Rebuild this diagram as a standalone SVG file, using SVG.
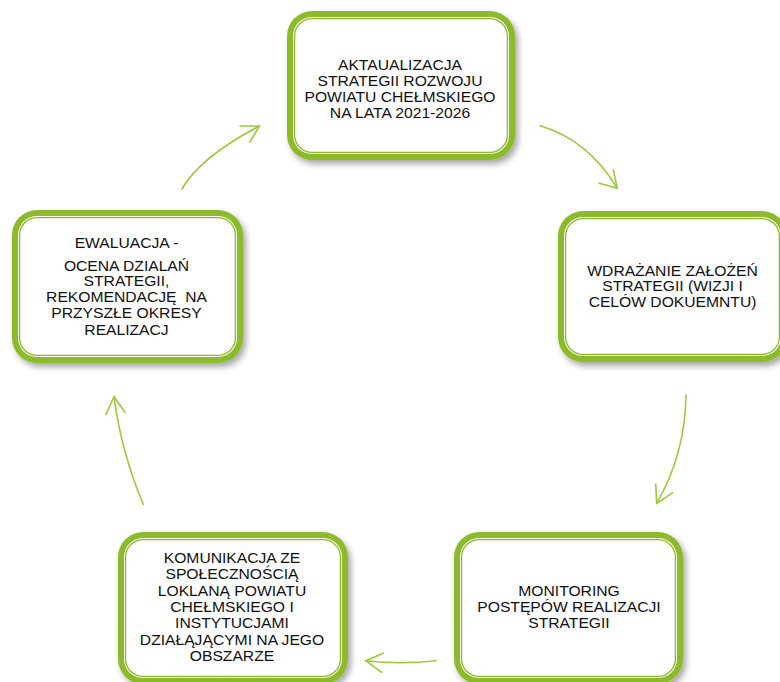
<svg xmlns="http://www.w3.org/2000/svg" width="780" height="682" viewBox="0 0 780 682">
<style>
.outer{fill:#8DBA2A}
.inner{fill:#fff}
.line{fill:none;stroke:#8DBA2A;stroke-width:1.3}
.lbl{font-family:"Liberation Sans",Arial,sans-serif;font-size:14.5px;fill:#111;text-anchor:middle}
.arr{fill:none;stroke:#9CCB3A;stroke-width:1.6;stroke-linecap:round}
</style>
<defs>
<filter id="sh" x="-10%" y="-10%" width="125%" height="130%">
<feDropShadow dx="3" dy="4" stdDeviation="3" flood-color="#000" flood-opacity="0.35"/>
</filter>
</defs>
<rect width="780" height="682" fill="#fff"/>

<g id="node-aktualizacja">
<g filter="url(#sh)"><rect class="outer" x="287" y="11" width="228" height="149" rx="25"/></g>
<rect class="inner" x="293" y="17" width="216" height="137" rx="19"/>
<rect class="line" x="294.6" y="18.6" width="212.8" height="133.8" rx="17.5"/>
<g transform="translate(400 0) scale(1.08 1)">
<text class="lbl" x="0" y="70">AKTAUALIZACJA</text>
<text class="lbl" x="0" y="86">STRATEGII ROZWOJU</text>
<text class="lbl" x="0" y="102">POWIATU CHEŁMSKIEGO</text>
<text class="lbl" x="0" y="118">NA LATA 2021-2026</text>
</g>
</g>

<g id="node-wdrazanie">
<g filter="url(#sh)"><rect class="outer" x="558" y="211" width="229" height="151" rx="25"/></g>
<rect class="inner" x="564" y="217" width="217" height="139" rx="19"/>
<rect class="line" x="565.6" y="218.6" width="213.8" height="135.8" rx="17.5"/>
<g transform="translate(672.5 0) scale(1.08 1)">
<text class="lbl" x="0" y="276">WDRAŻANIE ZAŁOŻEŃ</text>
<text class="lbl" x="0" y="291.5">STRATEGII (WIZJI I</text>
<text class="lbl" x="0" y="307">CELÓW DOKUEMNTU)</text>
</g>
</g>

<g id="node-monitoring">
<g filter="url(#sh)"><rect class="outer" x="454" y="532" width="229" height="152" rx="25"/></g>
<rect class="inner" x="460" y="538" width="217" height="140" rx="19"/>
<rect class="line" x="461.6" y="539.6" width="213.8" height="136.8" rx="17.5"/>
<g transform="translate(569 0) scale(1.08 1)">
<text class="lbl" x="0" y="596.5">MONITORING</text>
<text class="lbl" x="0" y="612">POSTĘPÓW REALIZACJI</text>
<text class="lbl" x="0" y="628">STRATEGII</text>
</g>
</g>

<g id="node-komunikacja">
<g filter="url(#sh)"><rect class="outer" x="118" y="532" width="230" height="152" rx="25"/></g>
<rect class="inner" x="124" y="538" width="218" height="140" rx="19"/>
<rect class="line" x="125.6" y="539.6" width="214.8" height="136.8" rx="17.5"/>
<g transform="translate(232 0) scale(1.08 1)">
<text class="lbl" x="0" y="563.5">KOMUNIKACJA ZE</text>
<text class="lbl" x="0" y="579.5">SPOŁECZNOŚCIĄ</text>
<text class="lbl" x="0" y="596">LOKLANĄ POWIATU</text>
<text class="lbl" x="0" y="612">CHEŁMSKIEGO I</text>
<text class="lbl" x="0" y="628.5">INSTYTUCJAMI</text>
<text class="lbl" x="0" y="645">DZIAŁĄJĄCYMI NA JEGO</text>
<text class="lbl" x="0" y="661.5">OBSZARZE</text>
</g>
</g>

<g id="node-ewaluacja">
<g filter="url(#sh)"><rect class="outer" x="12" y="210" width="231" height="153" rx="25"/></g>
<rect class="inner" x="18" y="216" width="219" height="141" rx="19"/>
<rect class="line" x="19.6" y="217.6" width="215.8" height="137.8" rx="17.5"/>
<g transform="translate(126.5 0) scale(1.08 1)">
<text class="lbl" x="0" y="248">EWALUACJA -</text>
<text class="lbl" x="0" y="271">OCENA DZIALAŃ</text>
<text class="lbl" x="0" y="286.5">STRATEGII,</text>
<text class="lbl" x="0" y="302.5">REKOMENDACJĘ&#160; NA</text>
<text class="lbl" x="0" y="318.5">PRZYSZŁE OKRESY</text>
<text class="lbl" x="0" y="335">REALIZACJ</text>
</g>
</g>

<g id="connectors">
<path class="arr" d="M182,189 Q199.5,157.7 259.3,126"/>
<path class="arr" d="M240,126 L259.3,126 L250,142"/>
<path class="arr" d="M540,125.7 Q588,139.6 617.3,188.3"/>
<path class="arr" d="M599,183 L617.3,188.3 L613.3,170"/>
<path class="arr" d="M686,395 Q685.2,454.2 656.7,503.3"/>
<path class="arr" d="M655.7,484.3 L656.7,503.3 L672.7,492.7"/>
<path class="arr" d="M436,660.7 Q400,664.7 365.7,660.7"/>
<path class="arr" d="M383.3,653.3 L365.7,660.7 L381.7,672.3"/>
<path class="arr" d="M143.3,504.3 Q121.4,452.9 114,396.7"/>
<path class="arr" d="M106,414.3 L114,396.7 L125,412.3"/>
</g>
</svg>
